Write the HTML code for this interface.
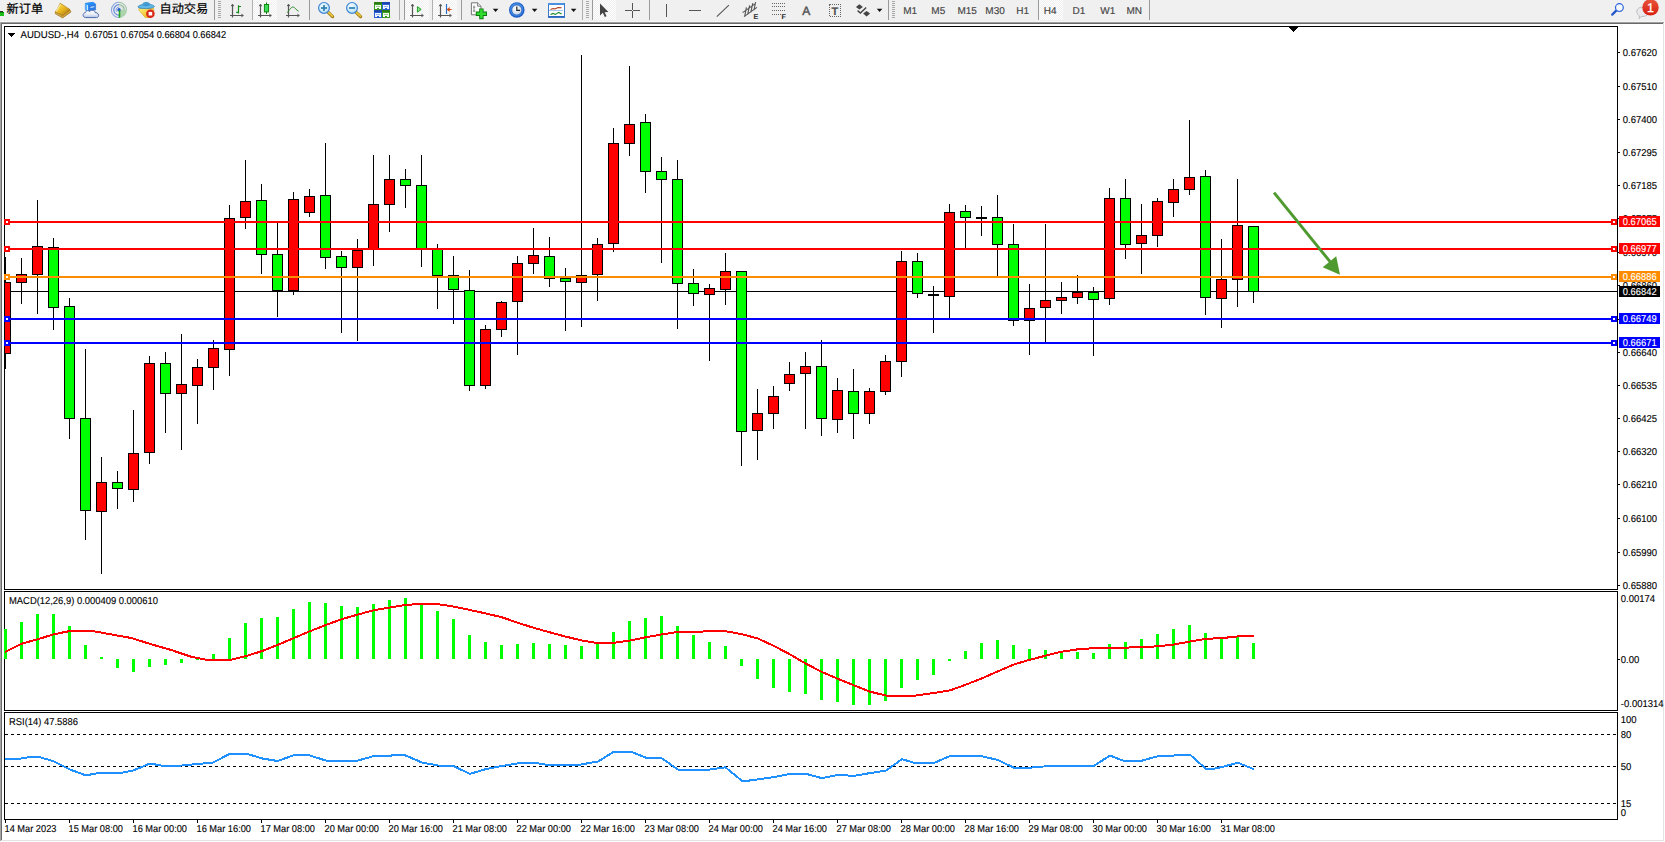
<!DOCTYPE html>
<html lang="zh"><head><meta charset="utf-8"><title>AUDUSD-,H4</title>
<style>html,body{margin:0;padding:0;background:#fff}body{width:1665px;height:842px;overflow:hidden;position:relative}svg{position:absolute;left:0;top:0;display:block}text{font-family:"Liberation Sans","Noto Sans CJK SC",sans-serif;font-size:10px;fill:#000;text-rendering:geometricPrecision}text{stroke:#000;stroke-width:.12px}text.w{stroke:#fff}text.cjk{font-size:12.2px;stroke-width:.2px}text.tf{font-size:10px;fill:#444;stroke:#444;stroke-width:.15px}text.w{fill:#fff}</style></head><body>
<svg width="1665" height="842" viewBox="0 0 1665 842">
<g shape-rendering="crispEdges">
<rect x="0" y="0" width="1665" height="842" fill="#fff"/>
<rect x="0" y="0" width="1665" height="22" fill="#f0f0f0"/>
<rect x="0" y="21" width="1665" height="1" fill="#f6f6f6"/>
<rect x="0" y="22" width="1664" height="1" fill="#a0a0a0"/>
<rect x="0" y="22" width="1" height="819" fill="#a6a6a6"/>
<rect x="1" y="23" width="1662" height="1" fill="#696969"/>
<rect x="1" y="23" width="1" height="817" fill="#696969"/>
<rect x="1663" y="23" width="1" height="818" fill="#e3e3e3"/>
<rect x="1" y="840" width="1663" height="1" fill="#e3e3e3"/>
<rect x="4.5" y="26.5" width="1613" height="563" fill="#fff" stroke="#000" stroke-width="1"/>
<rect x="4.5" y="591.5" width="1613" height="119" fill="#fff" stroke="#000" stroke-width="1"/>
<rect x="4.5" y="712.5" width="1613" height="107" fill="#fff" stroke="#000" stroke-width="1"/>
</g>
<g shape-rendering="crispEdges">
<rect x="5" y="291" width="1612" height="1" fill="#000"/>
<clipPath id="cm"><rect x="5" y="27" width="1612" height="562"/></clipPath>
<g clip-path="url(#cm)">
<rect x="5" y="257" width="1" height="112" fill="#000"/>
<rect x="0" y="282" width="11" height="72" fill="#000"/>
<rect x="1" y="283" width="9" height="70" fill="#f00"/>
<rect x="21" y="258" width="1" height="46" fill="#000"/>
<rect x="16" y="274" width="11" height="9" fill="#000"/>
<rect x="17" y="275" width="9" height="7" fill="#f00"/>
<rect x="37" y="200" width="1" height="114" fill="#000"/>
<rect x="32" y="246" width="11" height="29" fill="#000"/>
<rect x="33" y="247" width="9" height="27" fill="#f00"/>
<rect x="53" y="238" width="1" height="92" fill="#000"/>
<rect x="48" y="247" width="11" height="61" fill="#000"/>
<rect x="49" y="248" width="9" height="59" fill="#0f0"/>
<rect x="69" y="298" width="1" height="141" fill="#000"/>
<rect x="64" y="306" width="11" height="113" fill="#000"/>
<rect x="65" y="307" width="9" height="111" fill="#0f0"/>
<rect x="85" y="349" width="1" height="191" fill="#000"/>
<rect x="80" y="418" width="11" height="93" fill="#000"/>
<rect x="81" y="419" width="9" height="91" fill="#0f0"/>
<rect x="101" y="457" width="1" height="117" fill="#000"/>
<rect x="96" y="482" width="11" height="30" fill="#000"/>
<rect x="97" y="483" width="9" height="28" fill="#f00"/>
<rect x="117" y="471" width="1" height="38" fill="#000"/>
<rect x="112" y="482" width="11" height="7" fill="#000"/>
<rect x="113" y="483" width="9" height="5" fill="#0f0"/>
<rect x="133" y="410" width="1" height="92" fill="#000"/>
<rect x="128" y="453" width="11" height="37" fill="#000"/>
<rect x="129" y="454" width="9" height="35" fill="#f00"/>
<rect x="149" y="356" width="1" height="108" fill="#000"/>
<rect x="144" y="363" width="11" height="90" fill="#000"/>
<rect x="145" y="364" width="9" height="88" fill="#f00"/>
<rect x="165" y="352" width="1" height="81" fill="#000"/>
<rect x="160" y="363" width="11" height="31" fill="#000"/>
<rect x="161" y="364" width="9" height="29" fill="#0f0"/>
<rect x="181" y="334" width="1" height="116" fill="#000"/>
<rect x="176" y="384" width="11" height="10" fill="#000"/>
<rect x="177" y="385" width="9" height="8" fill="#f00"/>
<rect x="197" y="359" width="1" height="65" fill="#000"/>
<rect x="192" y="367" width="11" height="19" fill="#000"/>
<rect x="193" y="368" width="9" height="17" fill="#f00"/>
<rect x="213" y="340" width="1" height="50" fill="#000"/>
<rect x="208" y="348" width="11" height="20" fill="#000"/>
<rect x="209" y="349" width="9" height="18" fill="#f00"/>
<rect x="229" y="205" width="1" height="171" fill="#000"/>
<rect x="224" y="218" width="11" height="132" fill="#000"/>
<rect x="225" y="219" width="9" height="130" fill="#f00"/>
<rect x="245" y="160" width="1" height="69" fill="#000"/>
<rect x="240" y="201" width="11" height="17" fill="#000"/>
<rect x="241" y="202" width="9" height="15" fill="#f00"/>
<rect x="261" y="184" width="1" height="90" fill="#000"/>
<rect x="256" y="200" width="11" height="55" fill="#000"/>
<rect x="257" y="201" width="9" height="53" fill="#0f0"/>
<rect x="277" y="223" width="1" height="94" fill="#000"/>
<rect x="272" y="254" width="11" height="37" fill="#000"/>
<rect x="273" y="255" width="9" height="35" fill="#0f0"/>
<rect x="293" y="192" width="1" height="103" fill="#000"/>
<rect x="288" y="199" width="11" height="92" fill="#000"/>
<rect x="289" y="200" width="9" height="90" fill="#f00"/>
<rect x="309" y="189" width="1" height="28" fill="#000"/>
<rect x="304" y="196" width="11" height="17" fill="#000"/>
<rect x="305" y="197" width="9" height="15" fill="#f00"/>
<rect x="325" y="143" width="1" height="126" fill="#000"/>
<rect x="320" y="195" width="11" height="63" fill="#000"/>
<rect x="321" y="196" width="9" height="61" fill="#0f0"/>
<rect x="341" y="251" width="1" height="82" fill="#000"/>
<rect x="336" y="256" width="11" height="12" fill="#000"/>
<rect x="337" y="257" width="9" height="10" fill="#0f0"/>
<rect x="357" y="239" width="1" height="102" fill="#000"/>
<rect x="352" y="250" width="11" height="18" fill="#000"/>
<rect x="353" y="251" width="9" height="16" fill="#f00"/>
<rect x="373" y="155" width="1" height="111" fill="#000"/>
<rect x="368" y="204" width="11" height="46" fill="#000"/>
<rect x="369" y="205" width="9" height="44" fill="#f00"/>
<rect x="389" y="155" width="1" height="77" fill="#000"/>
<rect x="384" y="179" width="11" height="26" fill="#000"/>
<rect x="385" y="180" width="9" height="24" fill="#f00"/>
<rect x="405" y="169" width="1" height="39" fill="#000"/>
<rect x="400" y="179" width="11" height="7" fill="#000"/>
<rect x="401" y="180" width="9" height="5" fill="#0f0"/>
<rect x="421" y="155" width="1" height="112" fill="#000"/>
<rect x="416" y="185" width="11" height="64" fill="#000"/>
<rect x="417" y="186" width="9" height="62" fill="#0f0"/>
<rect x="437" y="244" width="1" height="65" fill="#000"/>
<rect x="432" y="249" width="11" height="27" fill="#000"/>
<rect x="433" y="250" width="9" height="25" fill="#0f0"/>
<rect x="453" y="256" width="1" height="68" fill="#000"/>
<rect x="448" y="275" width="11" height="15" fill="#000"/>
<rect x="449" y="276" width="9" height="13" fill="#0f0"/>
<rect x="469" y="270" width="1" height="121" fill="#000"/>
<rect x="464" y="290" width="11" height="96" fill="#000"/>
<rect x="465" y="291" width="9" height="94" fill="#0f0"/>
<rect x="485" y="325" width="1" height="64" fill="#000"/>
<rect x="480" y="329" width="11" height="57" fill="#000"/>
<rect x="481" y="330" width="9" height="55" fill="#f00"/>
<rect x="501" y="301" width="1" height="36" fill="#000"/>
<rect x="496" y="302" width="11" height="28" fill="#000"/>
<rect x="497" y="303" width="9" height="26" fill="#f00"/>
<rect x="517" y="256" width="1" height="99" fill="#000"/>
<rect x="512" y="263" width="11" height="39" fill="#000"/>
<rect x="513" y="264" width="9" height="37" fill="#f00"/>
<rect x="533" y="228" width="1" height="46" fill="#000"/>
<rect x="528" y="255" width="11" height="9" fill="#000"/>
<rect x="529" y="256" width="9" height="7" fill="#f00"/>
<rect x="549" y="237" width="1" height="50" fill="#000"/>
<rect x="544" y="256" width="11" height="23" fill="#000"/>
<rect x="545" y="257" width="9" height="21" fill="#0f0"/>
<rect x="565" y="268" width="1" height="63" fill="#000"/>
<rect x="560" y="278" width="11" height="4" fill="#000"/>
<rect x="561" y="279" width="9" height="2" fill="#0f0"/>
<rect x="581" y="55" width="1" height="272" fill="#000"/>
<rect x="576" y="275" width="11" height="8" fill="#000"/>
<rect x="577" y="276" width="9" height="6" fill="#f00"/>
<rect x="597" y="238" width="1" height="63" fill="#000"/>
<rect x="592" y="244" width="11" height="31" fill="#000"/>
<rect x="593" y="245" width="9" height="29" fill="#f00"/>
<rect x="613" y="128" width="1" height="124" fill="#000"/>
<rect x="608" y="143" width="11" height="101" fill="#000"/>
<rect x="609" y="144" width="9" height="99" fill="#f00"/>
<rect x="629" y="66" width="1" height="90" fill="#000"/>
<rect x="624" y="124" width="11" height="20" fill="#000"/>
<rect x="625" y="125" width="9" height="18" fill="#f00"/>
<rect x="645" y="114" width="1" height="79" fill="#000"/>
<rect x="640" y="122" width="11" height="50" fill="#000"/>
<rect x="641" y="123" width="9" height="48" fill="#0f0"/>
<rect x="661" y="157" width="1" height="106" fill="#000"/>
<rect x="656" y="171" width="11" height="9" fill="#000"/>
<rect x="657" y="172" width="9" height="7" fill="#0f0"/>
<rect x="677" y="160" width="1" height="169" fill="#000"/>
<rect x="672" y="179" width="11" height="105" fill="#000"/>
<rect x="673" y="180" width="9" height="103" fill="#0f0"/>
<rect x="693" y="269" width="1" height="37" fill="#000"/>
<rect x="688" y="283" width="11" height="11" fill="#000"/>
<rect x="689" y="284" width="9" height="9" fill="#0f0"/>
<rect x="709" y="284" width="1" height="77" fill="#000"/>
<rect x="704" y="288" width="11" height="7" fill="#000"/>
<rect x="705" y="289" width="9" height="5" fill="#f00"/>
<rect x="725" y="253" width="1" height="52" fill="#000"/>
<rect x="720" y="271" width="11" height="19" fill="#000"/>
<rect x="721" y="272" width="9" height="17" fill="#f00"/>
<rect x="741" y="271" width="1" height="195" fill="#000"/>
<rect x="736" y="271" width="11" height="161" fill="#000"/>
<rect x="737" y="272" width="9" height="159" fill="#0f0"/>
<rect x="757" y="389" width="1" height="71" fill="#000"/>
<rect x="752" y="413" width="11" height="18" fill="#000"/>
<rect x="753" y="414" width="9" height="16" fill="#f00"/>
<rect x="773" y="386" width="1" height="43" fill="#000"/>
<rect x="768" y="396" width="11" height="18" fill="#000"/>
<rect x="769" y="397" width="9" height="16" fill="#f00"/>
<rect x="789" y="362" width="1" height="29" fill="#000"/>
<rect x="784" y="374" width="11" height="10" fill="#000"/>
<rect x="785" y="375" width="9" height="8" fill="#f00"/>
<rect x="805" y="352" width="1" height="77" fill="#000"/>
<rect x="800" y="366" width="11" height="8" fill="#000"/>
<rect x="801" y="367" width="9" height="6" fill="#f00"/>
<rect x="821" y="340" width="1" height="96" fill="#000"/>
<rect x="816" y="366" width="11" height="53" fill="#000"/>
<rect x="817" y="367" width="9" height="51" fill="#0f0"/>
<rect x="837" y="378" width="1" height="55" fill="#000"/>
<rect x="832" y="390" width="11" height="30" fill="#000"/>
<rect x="833" y="391" width="9" height="28" fill="#f00"/>
<rect x="853" y="369" width="1" height="70" fill="#000"/>
<rect x="848" y="391" width="11" height="23" fill="#000"/>
<rect x="849" y="392" width="9" height="21" fill="#0f0"/>
<rect x="869" y="388" width="1" height="36" fill="#000"/>
<rect x="864" y="391" width="11" height="23" fill="#000"/>
<rect x="865" y="392" width="9" height="21" fill="#f00"/>
<rect x="885" y="355" width="1" height="40" fill="#000"/>
<rect x="880" y="361" width="11" height="31" fill="#000"/>
<rect x="881" y="362" width="9" height="29" fill="#f00"/>
<rect x="901" y="251" width="1" height="126" fill="#000"/>
<rect x="896" y="261" width="11" height="101" fill="#000"/>
<rect x="897" y="262" width="9" height="99" fill="#f00"/>
<rect x="917" y="253" width="1" height="45" fill="#000"/>
<rect x="912" y="261" width="11" height="33" fill="#000"/>
<rect x="913" y="262" width="9" height="31" fill="#0f0"/>
<rect x="933" y="286" width="1" height="47" fill="#000"/>
<rect x="928" y="294" width="11" height="2" fill="#000"/>
<rect x="949" y="204" width="1" height="115" fill="#000"/>
<rect x="944" y="212" width="11" height="85" fill="#000"/>
<rect x="945" y="213" width="9" height="83" fill="#f00"/>
<rect x="965" y="205" width="1" height="44" fill="#000"/>
<rect x="960" y="211" width="11" height="7" fill="#000"/>
<rect x="961" y="212" width="9" height="5" fill="#0f0"/>
<rect x="981" y="206" width="1" height="30" fill="#000"/>
<rect x="976" y="217" width="11" height="2" fill="#000"/>
<rect x="997" y="195" width="1" height="81" fill="#000"/>
<rect x="992" y="217" width="11" height="28" fill="#000"/>
<rect x="993" y="218" width="9" height="26" fill="#0f0"/>
<rect x="1013" y="224" width="1" height="102" fill="#000"/>
<rect x="1008" y="244" width="11" height="77" fill="#000"/>
<rect x="1009" y="245" width="9" height="75" fill="#0f0"/>
<rect x="1029" y="284" width="1" height="71" fill="#000"/>
<rect x="1024" y="308" width="11" height="13" fill="#000"/>
<rect x="1025" y="309" width="9" height="11" fill="#f00"/>
<rect x="1045" y="224" width="1" height="119" fill="#000"/>
<rect x="1040" y="300" width="11" height="8" fill="#000"/>
<rect x="1041" y="301" width="9" height="6" fill="#f00"/>
<rect x="1061" y="282" width="1" height="32" fill="#000"/>
<rect x="1056" y="297" width="11" height="4" fill="#000"/>
<rect x="1057" y="298" width="9" height="2" fill="#f00"/>
<rect x="1077" y="275" width="1" height="29" fill="#000"/>
<rect x="1072" y="292" width="11" height="6" fill="#000"/>
<rect x="1073" y="293" width="9" height="4" fill="#f00"/>
<rect x="1093" y="287" width="1" height="69" fill="#000"/>
<rect x="1088" y="292" width="11" height="8" fill="#000"/>
<rect x="1089" y="293" width="9" height="6" fill="#0f0"/>
<rect x="1109" y="188" width="1" height="117" fill="#000"/>
<rect x="1104" y="198" width="11" height="101" fill="#000"/>
<rect x="1105" y="199" width="9" height="99" fill="#f00"/>
<rect x="1125" y="179" width="1" height="80" fill="#000"/>
<rect x="1120" y="198" width="11" height="47" fill="#000"/>
<rect x="1121" y="199" width="9" height="45" fill="#0f0"/>
<rect x="1141" y="204" width="1" height="70" fill="#000"/>
<rect x="1136" y="235" width="11" height="9" fill="#000"/>
<rect x="1137" y="236" width="9" height="7" fill="#f00"/>
<rect x="1157" y="198" width="1" height="49" fill="#000"/>
<rect x="1152" y="201" width="11" height="35" fill="#000"/>
<rect x="1153" y="202" width="9" height="33" fill="#f00"/>
<rect x="1173" y="179" width="1" height="38" fill="#000"/>
<rect x="1168" y="189" width="11" height="14" fill="#000"/>
<rect x="1169" y="190" width="9" height="12" fill="#f00"/>
<rect x="1189" y="120" width="1" height="75" fill="#000"/>
<rect x="1184" y="177" width="11" height="13" fill="#000"/>
<rect x="1185" y="178" width="9" height="11" fill="#f00"/>
<rect x="1205" y="170" width="1" height="145" fill="#000"/>
<rect x="1200" y="176" width="11" height="122" fill="#000"/>
<rect x="1201" y="177" width="9" height="120" fill="#0f0"/>
<rect x="1221" y="239" width="1" height="89" fill="#000"/>
<rect x="1216" y="279" width="11" height="20" fill="#000"/>
<rect x="1217" y="280" width="9" height="18" fill="#f00"/>
<rect x="1237" y="179" width="1" height="128" fill="#000"/>
<rect x="1232" y="225" width="11" height="55" fill="#000"/>
<rect x="1233" y="226" width="9" height="53" fill="#f00"/>
<rect x="1253" y="226" width="1" height="77" fill="#000"/>
<rect x="1248" y="226" width="11" height="66" fill="#000"/>
<rect x="1249" y="227" width="9" height="64" fill="#0f0"/>
</g>
<rect x="5" y="221" width="1612" height="2" fill="#f00"/>
<rect x="4" y="219" width="6" height="6" fill="#f00"/>
<rect x="6" y="221" width="2" height="2" fill="#fff"/>
<rect x="1611" y="219" width="6" height="6" fill="#f00"/>
<rect x="1613" y="221" width="2" height="2" fill="#fff"/>
<rect x="5" y="248" width="1612" height="2" fill="#f00"/>
<rect x="4" y="246" width="6" height="6" fill="#f00"/>
<rect x="6" y="248" width="2" height="2" fill="#fff"/>
<rect x="1611" y="246" width="6" height="6" fill="#f00"/>
<rect x="1613" y="248" width="2" height="2" fill="#fff"/>
<rect x="5" y="276" width="1612" height="2" fill="#ff8c00"/>
<rect x="4" y="274" width="6" height="6" fill="#ff8c00"/>
<rect x="6" y="276" width="2" height="2" fill="#fff"/>
<rect x="1611" y="274" width="6" height="6" fill="#ff8c00"/>
<rect x="1613" y="276" width="2" height="2" fill="#fff"/>
<rect x="5" y="318" width="1612" height="2" fill="#00f"/>
<rect x="4" y="316" width="6" height="6" fill="#00f"/>
<rect x="6" y="318" width="2" height="2" fill="#fff"/>
<rect x="1611" y="316" width="6" height="6" fill="#00f"/>
<rect x="1613" y="318" width="2" height="2" fill="#fff"/>
<rect x="5" y="342" width="1612" height="2" fill="#00f"/>
<rect x="4" y="340" width="6" height="6" fill="#00f"/>
<rect x="6" y="342" width="2" height="2" fill="#fff"/>
<rect x="1611" y="340" width="6" height="6" fill="#00f"/>
<rect x="1613" y="342" width="2" height="2" fill="#fff"/>
<rect x="1289" y="27" width="9" height="1" fill="#000"/>
<rect x="1290" y="28" width="7" height="1" fill="#000"/>
<rect x="1291" y="29" width="5" height="1" fill="#000"/>
<rect x="1292" y="30" width="3" height="1" fill="#000"/>
<rect x="1293" y="31" width="1" height="1" fill="#000"/>
<rect x="8" y="33" width="7" height="1" fill="#000"/>
<rect x="9" y="34" width="5" height="1" fill="#000"/>
<rect x="10" y="35" width="3" height="1" fill="#000"/>
<rect x="11" y="36" width="1" height="1" fill="#000"/>
</g>
<g shape-rendering="crispEdges">
<rect x="1618" y="52" width="2" height="1" fill="#000"/>
<rect x="1618" y="86" width="2" height="1" fill="#000"/>
<rect x="1618" y="119" width="2" height="1" fill="#000"/>
<rect x="1618" y="152" width="2" height="1" fill="#000"/>
<rect x="1618" y="185" width="2" height="1" fill="#000"/>
<rect x="1618" y="218" width="2" height="1" fill="#000"/>
<rect x="1618" y="252" width="2" height="1" fill="#000"/>
<rect x="1618" y="285" width="2" height="1" fill="#000"/>
<rect x="1618" y="319" width="2" height="1" fill="#000"/>
<rect x="1618" y="352" width="2" height="1" fill="#000"/>
<rect x="1618" y="385" width="2" height="1" fill="#000"/>
<rect x="1618" y="418" width="2" height="1" fill="#000"/>
<rect x="1618" y="451" width="2" height="1" fill="#000"/>
<rect x="1618" y="484" width="2" height="1" fill="#000"/>
<rect x="1618" y="518" width="2" height="1" fill="#000"/>
<rect x="1618" y="552" width="2" height="1" fill="#000"/>
<rect x="1618" y="585" width="2" height="1" fill="#000"/>
</g>
<text transform="translate(1622.8 56) scale(.95 1)">0.67620</text>
<text transform="translate(1622.8 90) scale(.95 1)">0.67510</text>
<text transform="translate(1622.8 123) scale(.95 1)">0.67400</text>
<text transform="translate(1622.8 156) scale(.95 1)">0.67295</text>
<text transform="translate(1622.8 189) scale(.95 1)">0.67185</text>
<text transform="translate(1622.8 222) scale(.95 1)">0.67075</text>
<text transform="translate(1622.8 256) scale(.95 1)">0.66970</text>
<text transform="translate(1622.8 289) scale(.95 1)">0.66860</text>
<text transform="translate(1622.8 323) scale(.95 1)">0.66750</text>
<text transform="translate(1622.8 356) scale(.95 1)">0.66640</text>
<text transform="translate(1622.8 389) scale(.95 1)">0.66535</text>
<text transform="translate(1622.8 422) scale(.95 1)">0.66425</text>
<text transform="translate(1622.8 455) scale(.95 1)">0.66320</text>
<text transform="translate(1622.8 488) scale(.95 1)">0.66210</text>
<text transform="translate(1622.8 522) scale(.95 1)">0.66100</text>
<text transform="translate(1622.8 556) scale(.95 1)">0.65990</text>
<text transform="translate(1622.8 589) scale(.95 1)">0.65880</text>
<g shape-rendering="crispEdges">
<rect x="1619" y="216" width="41" height="11" fill="#f00"/>
<rect x="1619" y="243" width="41" height="11" fill="#f00"/>
<rect x="1619" y="271" width="41" height="11" fill="#ff8c00"/>
<rect x="1619" y="313" width="41" height="11" fill="#00f"/>
<rect x="1619" y="337" width="41" height="11" fill="#00f"/>
<rect x="1619" y="286" width="41" height="11" fill="#000"/>
</g>
<text class="w" transform="translate(1622.8 225) scale(.935 1)">0.67065</text>
<text class="w" transform="translate(1622.8 252) scale(.935 1)">0.66977</text>
<text class="w" transform="translate(1622.8 280) scale(.935 1)">0.66886</text>
<text class="w" transform="translate(1622.8 322) scale(.935 1)">0.66749</text>
<text class="w" transform="translate(1622.8 346) scale(.935 1)">0.66671</text>
<text class="w" transform="translate(1622.8 295) scale(.935 1)">0.66842</text>
<text x="20.6" y="38" textLength="58.4" lengthAdjust="spacingAndGlyphs">AUDUSD-,H4</text><text x="84.7" y="38" textLength="141.4" lengthAdjust="spacingAndGlyphs">0.67051 0.67054 0.66804 0.66842</text>
<g fill="#4e9a2e" stroke="none"><polygon points="1272.9,193.6 1275.2,191.8 1331.2,260.8 1328.9,262.6"/><polygon points="1340,274.7 1322.7,267.3 1336.2,256.2"/></g>
<g shape-rendering="crispEdges">
<rect x="4" y="629" width="3" height="30" fill="#0f0"/>
<rect x="20" y="622" width="3" height="37" fill="#0f0"/>
<rect x="36" y="614" width="3" height="45" fill="#0f0"/>
<rect x="52" y="614" width="3" height="45" fill="#0f0"/>
<rect x="68" y="626" width="3" height="33" fill="#0f0"/>
<rect x="84" y="645" width="3" height="14" fill="#0f0"/>
<rect x="100" y="657" width="3" height="2" fill="#0f0"/>
<rect x="116" y="659" width="3" height="9" fill="#0f0"/>
<rect x="132" y="659" width="3" height="13" fill="#0f0"/>
<rect x="148" y="659" width="3" height="8" fill="#0f0"/>
<rect x="164" y="659" width="3" height="6" fill="#0f0"/>
<rect x="180" y="659" width="3" height="4" fill="#0f0"/>
<rect x="196" y="659" width="3" height="1" fill="#0f0"/>
<rect x="212" y="654" width="3" height="5" fill="#0f0"/>
<rect x="228" y="638" width="3" height="21" fill="#0f0"/>
<rect x="244" y="623" width="3" height="36" fill="#0f0"/>
<rect x="260" y="618" width="3" height="41" fill="#0f0"/>
<rect x="276" y="617" width="3" height="42" fill="#0f0"/>
<rect x="292" y="609" width="3" height="50" fill="#0f0"/>
<rect x="308" y="602" width="3" height="57" fill="#0f0"/>
<rect x="324" y="603" width="3" height="56" fill="#0f0"/>
<rect x="340" y="606" width="3" height="53" fill="#0f0"/>
<rect x="356" y="607" width="3" height="52" fill="#0f0"/>
<rect x="372" y="604" width="3" height="55" fill="#0f0"/>
<rect x="388" y="600" width="3" height="59" fill="#0f0"/>
<rect x="404" y="598" width="3" height="61" fill="#0f0"/>
<rect x="420" y="603" width="3" height="56" fill="#0f0"/>
<rect x="436" y="611" width="3" height="48" fill="#0f0"/>
<rect x="452" y="619" width="3" height="40" fill="#0f0"/>
<rect x="468" y="635" width="3" height="24" fill="#0f0"/>
<rect x="484" y="642" width="3" height="17" fill="#0f0"/>
<rect x="500" y="645" width="3" height="14" fill="#0f0"/>
<rect x="516" y="644" width="3" height="15" fill="#0f0"/>
<rect x="532" y="643" width="3" height="16" fill="#0f0"/>
<rect x="548" y="644" width="3" height="15" fill="#0f0"/>
<rect x="564" y="645" width="3" height="14" fill="#0f0"/>
<rect x="580" y="646" width="3" height="13" fill="#0f0"/>
<rect x="596" y="644" width="3" height="15" fill="#0f0"/>
<rect x="612" y="632" width="3" height="27" fill="#0f0"/>
<rect x="628" y="621" width="3" height="38" fill="#0f0"/>
<rect x="644" y="618" width="3" height="41" fill="#0f0"/>
<rect x="660" y="616" width="3" height="43" fill="#0f0"/>
<rect x="676" y="626" width="3" height="33" fill="#0f0"/>
<rect x="692" y="635" width="3" height="24" fill="#0f0"/>
<rect x="708" y="642" width="3" height="17" fill="#0f0"/>
<rect x="724" y="646" width="3" height="13" fill="#0f0"/>
<rect x="740" y="659" width="3" height="7" fill="#0f0"/>
<rect x="756" y="659" width="3" height="20" fill="#0f0"/>
<rect x="772" y="659" width="3" height="29" fill="#0f0"/>
<rect x="788" y="659" width="3" height="33" fill="#0f0"/>
<rect x="804" y="659" width="3" height="35" fill="#0f0"/>
<rect x="820" y="659" width="3" height="41" fill="#0f0"/>
<rect x="836" y="659" width="3" height="43" fill="#0f0"/>
<rect x="852" y="659" width="3" height="46" fill="#0f0"/>
<rect x="868" y="659" width="3" height="46" fill="#0f0"/>
<rect x="884" y="659" width="3" height="42" fill="#0f0"/>
<rect x="900" y="659" width="3" height="29" fill="#0f0"/>
<rect x="916" y="659" width="3" height="21" fill="#0f0"/>
<rect x="932" y="659" width="3" height="16" fill="#0f0"/>
<rect x="948" y="659" width="3" height="2" fill="#0f0"/>
<rect x="964" y="651" width="3" height="8" fill="#0f0"/>
<rect x="980" y="643" width="3" height="16" fill="#0f0"/>
<rect x="996" y="640" width="3" height="19" fill="#0f0"/>
<rect x="1012" y="645" width="3" height="14" fill="#0f0"/>
<rect x="1028" y="649" width="3" height="10" fill="#0f0"/>
<rect x="1044" y="650" width="3" height="9" fill="#0f0"/>
<rect x="1060" y="652" width="3" height="7" fill="#0f0"/>
<rect x="1076" y="652" width="3" height="7" fill="#0f0"/>
<rect x="1092" y="653" width="3" height="6" fill="#0f0"/>
<rect x="1108" y="644" width="3" height="15" fill="#0f0"/>
<rect x="1124" y="642" width="3" height="17" fill="#0f0"/>
<rect x="1140" y="639" width="3" height="20" fill="#0f0"/>
<rect x="1156" y="634" width="3" height="25" fill="#0f0"/>
<rect x="1172" y="629" width="3" height="30" fill="#0f0"/>
<rect x="1188" y="625" width="3" height="34" fill="#0f0"/>
<rect x="1204" y="633" width="3" height="26" fill="#0f0"/>
<rect x="1220" y="638" width="3" height="21" fill="#0f0"/>
<rect x="1236" y="637" width="3" height="22" fill="#0f0"/>
<rect x="1252" y="643" width="3" height="16" fill="#0f0"/>
<polyline points="5.0,651.9 21.4,643.8 37.8,639.2 54.2,634.2 70.6,630.9 92.0,630.9 111.0,634.4 131.2,638.0 151.4,644.3 171.5,650.1 191.7,656.9 209.4,660.4 228.3,660.4 246.0,656.1 261.9,651.1 277.5,645.0 293.9,638.0 310.0,631.2 326.0,624.9 342.0,619.1 358.0,614.5 373.9,610.2 390.0,607.5 406.0,604.9 422.0,603.9 436.6,603.9 454.0,606.7 470.0,610.0 486.0,613.5 502.0,617.3 518.0,622.8 534.0,627.9 550.0,632.4 566.0,636.7 582.0,640.5 595.5,642.8 614.0,642.8 630.0,640.5 646.0,637.2 662.0,634.4 678.0,631.9 694.0,631.9 710.0,631.2 724.0,630.9 742.0,634.2 758.0,638.5 774.0,646.0 790.0,654.4 806.0,663.7 822.0,672.0 838.0,678.8 854.0,685.4 870.0,691.7 886.0,695.5 916.0,695.5 934.0,693.0 950.0,690.4 966.0,684.6 982.0,678.3 998.0,671.3 1014.0,664.5 1030.0,659.7 1046.0,655.6 1062.0,651.6 1078.0,649.3 1094.0,648.1 1110.0,647.6 1126.0,647.6 1142.0,647.1 1158.0,646.3 1174.0,644.5 1190.0,641.5 1206.0,638.8 1222.0,638.1 1238.0,636.4 1254.0,635.8" fill="none" stroke="#f00" stroke-width="2" stroke-linejoin="round"/>
<rect x="1618" y="659" width="2" height="1" fill="#000"/>
</g>
<text transform="translate(9 604) scale(.94 1)">MACD(12,26,9) 0.000409 0.000610</text>
<text transform="translate(1620.8 602) scale(.95 1)">0.00174</text><text transform="translate(1620.8 663) scale(.95 1)">0.00</text><text transform="translate(1620.8 707) scale(.95 1)">-0.001314</text>
<g shape-rendering="crispEdges">
<line x1="5" y1="734.5" x2="1617" y2="734.5" stroke="#000" stroke-width="1" stroke-dasharray="3,3"/>
<line x1="5" y1="766.5" x2="1617" y2="766.5" stroke="#000" stroke-width="1" stroke-dasharray="3,3"/>
<line x1="5" y1="803.5" x2="1617" y2="803.5" stroke="#000" stroke-width="1" stroke-dasharray="3,3"/>
<polyline points="5.0,759.0 21.4,758.5 30.3,757.0 39.0,757.0 53.0,761.0 69.4,769.3 84.5,774.9 88.3,774.9 99.6,772.9 121.0,772.9 133.7,770.3 148.8,764.0 152.6,764.0 164.0,766.0 181.6,765.5 198.0,764.0 213.2,762.5 229.6,753.9 247.2,753.9 262.4,758.5 277.5,761.0 293.9,755.2 309.0,755.2 326.7,760.8 357.0,760.8 373.4,756.2 389.8,756.0 393.5,755.0 404.9,755.2 422.0,762.5 437.8,765.5 453.0,765.8 469.9,773.9 486.0,769.1 502.0,766.0 517.8,763.3 537.5,763.3 547.6,765.0 579.0,764.8 598.0,761.5 614.0,751.7 630.8,751.7 646.0,757.7 661.0,757.7 678.0,769.6 709.0,769.6 725.4,767.3 741.8,780.7 748.0,780.7 758.0,779.4 773.9,777.1 790.0,773.9 806.3,773.9 822.0,778.2 837.8,774.9 854.0,775.9 869.9,773.1 886.0,770.6 902.0,759.2 914.8,763.0 934.0,763.0 949.9,756.0 980.4,756.0 998.0,760.0 1014.0,767.8 1028.3,767.8 1046.0,766.3 1094.0,765.8 1110.0,755.5 1124.0,761.0 1140.6,761.0 1158.0,756.2 1174.0,755.5 1190.0,754.7 1206.0,768.9 1212.6,769.0 1221.8,767.0 1238.0,762.8 1254.0,769.2" fill="none" stroke="#1e90ff" stroke-width="2" stroke-linejoin="round"/>
</g>
<text transform="translate(9 725) scale(.94 1)">RSI(14) 47.5886</text>
<text transform="translate(1620.8 723) scale(.95 1)">100</text>
<text transform="translate(1620.8 738) scale(.95 1)">80</text>
<text transform="translate(1620.8 770) scale(.95 1)">50</text>
<text transform="translate(1620.8 807) scale(.95 1)">15</text>
<text transform="translate(1620.8 816) scale(.95 1)">0</text>
<g shape-rendering="crispEdges">
<rect x="5" y="820" width="1" height="3" fill="#000"/>
<rect x="69" y="820" width="1" height="3" fill="#000"/>
<rect x="133" y="820" width="1" height="3" fill="#000"/>
<rect x="197" y="820" width="1" height="3" fill="#000"/>
<rect x="261" y="820" width="1" height="3" fill="#000"/>
<rect x="325" y="820" width="1" height="3" fill="#000"/>
<rect x="389" y="820" width="1" height="3" fill="#000"/>
<rect x="453" y="820" width="1" height="3" fill="#000"/>
<rect x="517" y="820" width="1" height="3" fill="#000"/>
<rect x="581" y="820" width="1" height="3" fill="#000"/>
<rect x="645" y="820" width="1" height="3" fill="#000"/>
<rect x="709" y="820" width="1" height="3" fill="#000"/>
<rect x="773" y="820" width="1" height="3" fill="#000"/>
<rect x="837" y="820" width="1" height="3" fill="#000"/>
<rect x="901" y="820" width="1" height="3" fill="#000"/>
<rect x="965" y="820" width="1" height="3" fill="#000"/>
<rect x="1029" y="820" width="1" height="3" fill="#000"/>
<rect x="1093" y="820" width="1" height="3" fill="#000"/>
<rect x="1157" y="820" width="1" height="3" fill="#000"/>
<rect x="1221" y="820" width="1" height="3" fill="#000"/>
</g>
<text transform="translate(4.5 832) scale(.925 1)">14 Mar 2023</text>
<text transform="translate(68.5 832) scale(.925 1)">15 Mar 08:00</text>
<text transform="translate(132.5 832) scale(.925 1)">16 Mar 00:00</text>
<text transform="translate(196.5 832) scale(.925 1)">16 Mar 16:00</text>
<text transform="translate(260.5 832) scale(.925 1)">17 Mar 08:00</text>
<text transform="translate(324.5 832) scale(.925 1)">20 Mar 00:00</text>
<text transform="translate(388.5 832) scale(.925 1)">20 Mar 16:00</text>
<text transform="translate(452.5 832) scale(.925 1)">21 Mar 08:00</text>
<text transform="translate(516.5 832) scale(.925 1)">22 Mar 00:00</text>
<text transform="translate(580.5 832) scale(.925 1)">22 Mar 16:00</text>
<text transform="translate(644.5 832) scale(.925 1)">23 Mar 08:00</text>
<text transform="translate(708.5 832) scale(.925 1)">24 Mar 00:00</text>
<text transform="translate(772.5 832) scale(.925 1)">24 Mar 16:00</text>
<text transform="translate(836.5 832) scale(.925 1)">27 Mar 08:00</text>
<text transform="translate(900.5 832) scale(.925 1)">28 Mar 00:00</text>
<text transform="translate(964.5 832) scale(.925 1)">28 Mar 16:00</text>
<text transform="translate(1028.5 832) scale(.925 1)">29 Mar 08:00</text>
<text transform="translate(1092.5 832) scale(.925 1)">30 Mar 00:00</text>
<text transform="translate(1156.5 832) scale(.925 1)">30 Mar 16:00</text>
<text transform="translate(1220.5 832) scale(.925 1)">31 Mar 08:00</text>
<defs><linearGradient id="gold" x1="0" y1="0" x2="1" y2="1"><stop offset="0" stop-color="#fbe36a"/><stop offset=".5" stop-color="#e9b91e"/><stop offset="1" stop-color="#a86f10"/></linearGradient><linearGradient id="blu" x1="0" y1="0" x2="1" y2="1"><stop offset="0" stop-color="#6cc0ff"/><stop offset="1" stop-color="#1a6fe0"/></linearGradient><linearGradient id="cloud" x1="0" y1="0" x2="0" y2="1"><stop offset="0" stop-color="#ffffff"/><stop offset=".55" stop-color="#e8eef8"/><stop offset="1" stop-color="#aebfe0"/></linearGradient><radialGradient id="lens" cx=".4" cy=".35" r=".7"><stop offset="0" stop-color="#f2fbff"/><stop offset="1" stop-color="#b4e0f6"/></radialGradient><radialGradient id="clk" cx=".4" cy=".35" r=".7"><stop offset="0" stop-color="#ffffff"/><stop offset="1" stop-color="#c4d4e8"/></radialGradient><linearGradient id="badge" x1="0" y1="0" x2="0" y2="1"><stop offset="0" stop-color="#e8553a"/><stop offset="1" stop-color="#d81e10"/></linearGradient><linearGradient id="yel" x1="0" y1="0" x2="1" y2="1"><stop offset="0" stop-color="#fff27a"/><stop offset="1" stop-color="#e8a80e"/></linearGradient><pattern id="chk" width="2" height="2" patternUnits="userSpaceOnUse"><rect width="2" height="2" fill="#f0f0f0"/><rect width="1" height="1" fill="#fff"/><rect x="1" y="1" width="1" height="1" fill="#fff"/></pattern></defs>
<g shape-rendering="crispEdges">
<rect x="253" y="0" width="24" height="20" fill="url(#chk)"/>
<rect x="405" y="0" width="24" height="20" fill="url(#chk)"/>
<rect x="433" y="0" width="24" height="20" fill="url(#chk)"/>
<rect x="593" y="0" width="23" height="20" fill="url(#chk)"/>
<rect x="1039" y="0" width="24" height="20" fill="url(#chk)"/>
<rect x="214" y="0" width="1" height="20" fill="#9a9a9a"/>
<rect x="309" y="0" width="1" height="20" fill="#9a9a9a"/>
<rect x="404" y="0" width="1" height="20" fill="#9a9a9a"/>
<rect x="461" y="0" width="1" height="20" fill="#9a9a9a"/>
<rect x="592" y="0" width="1" height="20" fill="#9a9a9a"/>
<rect x="649" y="0" width="1" height="20" fill="#9a9a9a"/>
<rect x="888" y="0" width="1" height="20" fill="#9a9a9a"/>
<rect x="1038" y="0" width="1" height="20" fill="#9a9a9a"/>
<rect x="1149" y="0" width="1" height="20" fill="#9a9a9a"/>
<rect x="252" y="0" width="1" height="20" fill="#b0b0b0"/>
<rect x="399" y="0" width="1" height="20" fill="#b0b0b0"/>
<rect x="432" y="0" width="1" height="20" fill="#b0b0b0"/>
<rect x="582" y="0" width="1" height="20" fill="#b0b0b0"/>
<rect x="218" y="1" width="3" height="1" fill="#a8a8a8"/>
<rect x="218" y="3" width="3" height="1" fill="#a8a8a8"/>
<rect x="218" y="5" width="3" height="1" fill="#a8a8a8"/>
<rect x="218" y="7" width="3" height="1" fill="#a8a8a8"/>
<rect x="218" y="9" width="3" height="1" fill="#a8a8a8"/>
<rect x="218" y="11" width="3" height="1" fill="#a8a8a8"/>
<rect x="218" y="13" width="3" height="1" fill="#a8a8a8"/>
<rect x="218" y="15" width="3" height="1" fill="#a8a8a8"/>
<rect x="218" y="17" width="3" height="1" fill="#a8a8a8"/>
<rect x="586" y="1" width="3" height="1" fill="#a8a8a8"/>
<rect x="586" y="3" width="3" height="1" fill="#a8a8a8"/>
<rect x="586" y="5" width="3" height="1" fill="#a8a8a8"/>
<rect x="586" y="7" width="3" height="1" fill="#a8a8a8"/>
<rect x="586" y="9" width="3" height="1" fill="#a8a8a8"/>
<rect x="586" y="11" width="3" height="1" fill="#a8a8a8"/>
<rect x="586" y="13" width="3" height="1" fill="#a8a8a8"/>
<rect x="586" y="15" width="3" height="1" fill="#a8a8a8"/>
<rect x="586" y="17" width="3" height="1" fill="#a8a8a8"/>
<rect x="892" y="1" width="3" height="1" fill="#a8a8a8"/>
<rect x="892" y="3" width="3" height="1" fill="#a8a8a8"/>
<rect x="892" y="5" width="3" height="1" fill="#a8a8a8"/>
<rect x="892" y="7" width="3" height="1" fill="#a8a8a8"/>
<rect x="892" y="9" width="3" height="1" fill="#a8a8a8"/>
<rect x="892" y="11" width="3" height="1" fill="#a8a8a8"/>
<rect x="892" y="13" width="3" height="1" fill="#a8a8a8"/>
<rect x="892" y="15" width="3" height="1" fill="#a8a8a8"/>
<rect x="892" y="17" width="3" height="1" fill="#a8a8a8"/>
</g>
<g shape-rendering="crispEdges"><rect x="0" y="11" width="3" height="1" fill="#333"/><rect x="0" y="12" width="4" height="4" fill="#18c018"/><rect x="0" y="12" width="4" height="1" fill="#0a8a0a"/></g>
<text class="cjk" x="6.6" y="13.2">新订单</text>
<g stroke-linejoin="round"><polygon points="55.2,12.4 62.7,15.6 69.8,9.6 71,12 62.6,17.9 55.1,13.6" fill="#b8841a" stroke="#9a6a10" stroke-width=".6"/><path d="M55.6,13.2 L62.7,16.7 L70.6,11" fill="none" stroke="#f0d070" stroke-width=".6"/><polygon points="60.2,3.2 69.8,9.4 62.8,15.2 55.3,11.9 57.6,8.6" fill="url(#gold)" stroke="#b07c12" stroke-width=".7"/><path d="M60.4,4.2 L57.4,9.6 L56.4,11.6" stroke="#fff6b8" stroke-width="1.1" fill="none" opacity=".85"/></g>
<g stroke-linejoin="round"><polygon points="85.3,3.3 93,2.3 95.6,4 95.6,10 88,11 85.3,9.9" fill="#2a7de8" stroke="#1b62c8" stroke-width=".5"/><polygon points="85.3,3.3 93,2.3 95.6,4 88,5" fill="#1f92ff"/><polygon points="85.3,3.3 88,5 88,11 85.3,9.9" fill="#56b4ff"/><path d="M87.6,5 V10.8" stroke="#e8f6ff" stroke-width=".9"/><path d="M90.4,7.4 L94.2,6.7" stroke="#e8eef8" stroke-width="1"/><path d="M85.8,17.6 C82.4,17.6 82.2,13.2 85.2,12.8 C85.6,10.4 88.6,10 89.6,11.6 C91,9.4 95,10 95.2,12.6 C99,12.2 100,17.6 96.4,17.6 Z" fill="url(#cloud)" stroke="#4f6cb0" stroke-width="1"/></g>
<g fill="none"><path d="M119,9.9 L119,17.9 A8,8 0 0 0 127,9.9 Z" fill="#7fc07f" opacity=".6" stroke="none"/><path d="M119,9.9 L127,9.9 A8,8 0 0 0 119,1.9 Z" fill="#b4d4b8" opacity=".3" stroke="none"/><path d="M119,2.3 A7.6,7.6 0 0 0 119,17.5" stroke="#6f94d8" stroke-width="1.1" opacity=".8"/><path d="M119,2.3 A7.6,7.6 0 0 1 126.6,9.9" stroke="#8fb89a" stroke-width="1" opacity=".8"/><path d="M119,4.7 A5.2,5.2 0 0 0 119,15.1" stroke="#4f7cd4" stroke-width="1.2" opacity=".9"/><path d="M119,4.7 A5.2,5.2 0 0 1 124.2,9.9" stroke="#86b090" stroke-width="1.1" opacity=".9"/><path d="M119,7 A2.9,2.9 0 0 0 117,12" stroke="#4f7cd4" stroke-width="1" opacity=".7"/><circle cx="119" cy="9.7" r="1.7" fill="#2458d0" stroke="none"/><path d="M119.5,10 L119.5,17.8" stroke="#1fa62a" stroke-width="1.6"/></g>
<g stroke-linejoin="round"><path d="M138.9,8.4 L153.7,8.4 L153.7,11.6 L149.2,17.5 L145.2,17.5 L138.9,10 Z" fill="url(#yel)" stroke="#d8a010" stroke-width=".6"/><path d="M137.9,7 C138.4,5.4 141,5 142.4,4.6 C142.8,1.8 149.4,1.6 149.9,4.4 C151.6,4.6 154,5.2 154.4,6.6 C153.4,9 139.4,9.4 137.9,7 Z" fill="#62b8e8" stroke="#2a7cb4" stroke-width=".7"/><path d="M143,4.6 C143.4,2.4 149,2.2 149.4,4.4 C148,5.6 144.6,5.6 143,4.6 Z" fill="#3f9cd6"/><path d="M142.6,5 C144.6,6 148,5.8 149.8,4.8" fill="none" stroke="#2a7cb4" stroke-width=".6"/><circle cx="150.4" cy="13.7" r="4.3" fill="#d8261a"/><rect x="148.6" y="11.9" width="3.6" height="3.6" fill="#fff"/></g>
<text class="cjk" x="159.5" y="13.2">自动交易</text>
<g stroke="#555" stroke-width="1.2" fill="none"><path d="M232.5,4.5 V17.5 M230,15.5 H243"/><path d="M231.2,6.2 L232.5,4.2 L233.8,6.2 M241.4,14.2 L243.4,15.5 L241.4,16.8" stroke-width="1"/></g>
<path d="M236.2,12.4 H238.5 M238.5,13.6 V5.2 M238.5,6.5 H241" fill="none" stroke="#168a16" stroke-width="1.2"/>
<g stroke="#555" stroke-width="1.2" fill="none"><path d="M260.5,4.5 V17.5 M258,15.5 H271"/><path d="M259.2,6.2 L260.5,4.2 L261.8,6.2 M269.4,14.2 L271.4,15.5 L269.4,16.8" stroke-width="1"/></g>
<g><path d="M266.5,2.5 V14" stroke="#1a6a1a" stroke-width="1"/><rect x="264.4" y="4.5" width="4.2" height="7.4" fill="#3edc5a" stroke="#0c8a0c" stroke-width="1"/></g>
<g stroke="#555" stroke-width="1.2" fill="none"><path d="M288.5,4.5 V17.5 M286,15.5 H299"/><path d="M287.2,6.2 L288.5,4.2 L289.8,6.2 M297.4,14.2 L299.4,15.5 L297.4,16.8" stroke-width="1"/></g>
<path d="M287.2,12.6 C289.6,9.6 291.6,6.6 293.2,7 C295,7.6 296.6,10.4 298.6,11.2" fill="none" stroke="#2a8a2a" stroke-width="1"/>
<g><path d="M328.2,12.4 L332.6,16.6" stroke="#9a7410" stroke-width="3.2" stroke-linecap="round"/><path d="M328.4,12.4 L332.4,16.2" stroke="#ecc83a" stroke-width="1.8" stroke-linecap="round"/><circle cx="324" cy="7.9" r="5.4" fill="url(#lens)" stroke="#3f86d6" stroke-width="1.2"/><path d="M321,8 H327" stroke="#2f7fae" stroke-width="1.7"/><path d="M324,5 V11" stroke="#2f7fae" stroke-width="1.7"/></g>
<g><path d="M356.2,12.4 L360.6,16.6" stroke="#9a7410" stroke-width="3.2" stroke-linecap="round"/><path d="M356.4,12.4 L360.4,16.2" stroke="#ecc83a" stroke-width="1.8" stroke-linecap="round"/><circle cx="352" cy="7.9" r="5.4" fill="url(#lens)" stroke="#3f86d6" stroke-width="1.2"/><path d="M349,8 H355" stroke="#2f7fae" stroke-width="1.7"/></g>
<g shape-rendering="crispEdges"><rect x="374" y="2" width="8" height="8" fill="#3a9a22"/><rect x="382" y="2" width="8" height="8" fill="#2a5fd0"/><rect x="374" y="10" width="8" height="8" fill="#2a5fd0"/><rect x="382" y="10" width="8" height="8" fill="#3a9a22"/><rect x="374" y="2" width="8" height="2" fill="#2c7c14"/><rect x="382" y="2" width="8" height="2" fill="#1c44b0"/><rect x="374" y="10" width="8" height="2" fill="#1c44b0"/><rect x="382" y="10" width="8" height="2" fill="#2c7c14"/><rect x="375" y="5" width="6" height="4" fill="#f4faf0"/><rect x="383" y="5" width="6" height="4" fill="#f0f4fe"/><rect x="375" y="13" width="6" height="4" fill="#f0f4fe"/><rect x="383" y="13" width="6" height="4" fill="#f4faf0"/><rect x="376" y="6" width="4" height="1" fill="#9ccc8c"/><rect x="384" y="6" width="4" height="1" fill="#9cb4ec"/><rect x="376" y="14" width="4" height="1" fill="#9cb4ec"/><rect x="384" y="14" width="4" height="1" fill="#9ccc8c"/><rect x="377" y="8" width="2" height="1" fill="#3a9a22"/><rect x="385" y="8" width="2" height="1" fill="#2a5fd0"/><rect x="377" y="16" width="2" height="1" fill="#2a5fd0"/><rect x="385" y="16" width="2" height="1" fill="#3a9a22"/></g>
<g stroke="#555" stroke-width="1.2" fill="none"><path d="M412.5,4.5 V17.5 M410,15.5 H423"/><path d="M411.2,6.2 L412.5,4.2 L413.8,6.2 M421.4,14.2 L423.4,15.5 L421.4,16.8" stroke-width="1"/></g>
<polygon points="417.4,6.6 421.2,9.4 417.4,12.2" fill="#7ee07e" stroke="#1a9a1a" stroke-width=".9"/>
<g stroke="#555" stroke-width="1.2" fill="none"><path d="M440.5,4.5 V17.5 M438,15.5 H451"/><path d="M439.2,6.2 L440.5,4.2 L441.8,6.2 M449.4,14.2 L451.4,15.5 L449.4,16.8" stroke-width="1"/></g>
<g><path d="M446.5,4 V14" stroke="#2a6fc8" stroke-width="1.2"/><path d="M451.6,9.5 H448 M449.8,7.6 L447.6,9.5 L449.8,11.4" stroke="#d04a10" stroke-width="1.2" fill="none"/></g>
<g><path d="M471.4,2.8 H477.6 L481,6.2 V14.8 H471.4 Z" fill="#fbfbfb" stroke="#6a6a6a" stroke-width=".9"/><path d="M477.6,2.8 V6.2 H481" fill="#e4e4e4" stroke="#6a6a6a" stroke-width=".8"/><path d="M474,5.6 v6.4 M473,7.2 h2.4 M473,11 h2.4" stroke="#777" stroke-width=".8" fill="none"/><path d="M481.4,8.4 V19.2 M475.8,13.8 H487" stroke="#0a7a0a" stroke-width="4.4"/><path d="M481.4,9.3 V18.3 M476.7,13.8 H486.1" stroke="#2fdc2f" stroke-width="2.6"/></g>
<polygon points="492.8,8.8 498.4,8.8 495.6,12" fill="#111"/>
<g><circle cx="516.8" cy="10" r="7.8" fill="#1f5fc8"/><circle cx="516.6" cy="9.6" r="6.6" fill="#3f8ae6"/><circle cx="516.8" cy="10" r="5" fill="url(#clk)" stroke="#1a4aa8" stroke-width=".6"/><path d="M516.8,6.4 V10.4 H520" stroke="#222" stroke-width="1.2" fill="none"/></g>
<polygon points="531.8,8.8 537.4,8.8 534.6,12" fill="#111"/>
<g shape-rendering="crispEdges"><rect x="548" y="3" width="16" height="14" fill="#fdfdfd" stroke="#3a78c8" stroke-width="1"/><rect x="548" y="3" width="16" height="2" fill="#4a90e0"/><rect x="549" y="10" width="14" height="1" fill="#a8c8f0"/><rect x="548" y="16" width="16" height="1" fill="#2a62c0"/></g><path d="M550.5,9.4 L553,8.6 L555,9 L558,7.6 L561.6,7.8" stroke="#b03a1a" stroke-width="1.1" fill="none"/><path d="M550.5,14.6 L553,13.4 L555.4,14.4 L558.6,12.4 L561.6,14" stroke="#1a8a2a" stroke-width="1.1" fill="none"/>
<polygon points="570.8,8.8 576.4,8.8 573.6,12" fill="#111"/>
<polygon points="600,3.6 600,15.4 602.8,12.8 604.8,17 606.6,16.2 604.6,12.2 608.4,12" fill="#444"/>
<g stroke="#555" stroke-width="1.1" shape-rendering="crispEdges"><path d="M632.5,3 V10 M632.5,11 V18 M625,10.5 H632 M633,10.5 H640"/></g>
<g stroke="#555" fill="none"><path d="M666.5,4 V17" stroke-width="1.1" shape-rendering="crispEdges"/><path d="M688.7,10.5 H701" stroke-width="1.1" shape-rendering="crispEdges"/><path d="M716.8,16.7 L728.9,5.2" stroke-width="1.1"/></g>
<g stroke="#555" stroke-width="1.1" fill="none"><path d="M742.6,12.6 L755.4,3.6 M744,16.6 L757,7.4 M746.4,7.4 L744.6,16.8 M749.6,5.4 L747.6,14.6 M752.8,3.2 L750.8,12.4 M755.6,2 L754,10.2"/></g><text class="tf" x="753.4" y="18.8" style="font-size:7px;font-weight:bold;fill:#333;stroke:#333">E</text>
<g stroke="#666" stroke-width="1" stroke-dasharray="1,1" shape-rendering="crispEdges"><path d="M772,3.5 H786 M772,6.5 H786 M772,10.5 H786 M772,14.5 H781"/></g><text class="tf" x="781.4" y="18.8" style="font-size:7px;font-weight:bold;fill:#333;stroke:#333">F</text>
<text class="tf" x="802.2" y="15" style="font-size:12px;fill:#555;stroke:#555;stroke-width:.5px">A</text>
<g shape-rendering="crispEdges"><rect x="829.5" y="4.5" width="11" height="11.5" fill="none" stroke="#666" stroke-width="1" stroke-dasharray="1,1"/></g><text class="tf" x="831.4" y="14.6" style="font-size:11px;font-weight:bold;fill:#555">T</text>
<g fill="#444" stroke="#444"><polygon points="859.4,4.2 862.9,6.9 859.4,9.4 855.9,6.9" stroke="none"/><polygon points="866.6,11 870.1,13.6 866.6,16.6 863.1,13.6" stroke="none"/><path d="M857.6,10.6 L860.4,13 L866.2,7.6" fill="none" stroke="#f0f0f0" stroke-width="3"/><path d="M857.6,10.6 L860.4,13 L866.2,7.6" fill="none" stroke-width="1.4"/></g>
<polygon points="876.8,8.8 882.4,8.8 879.6,12" fill="#111"/>
<text class="tf" x="903.2" y="14">M1</text>
<text class="tf" x="931.3" y="14">M5</text>
<text class="tf" x="957.4" y="14">M15</text>
<text class="tf" x="985.3" y="14">M30</text>
<text class="tf" x="1016.2" y="14">H1</text>
<text class="tf" x="1043.8" y="14">H4</text>
<text class="tf" x="1072.5" y="14">D1</text>
<text class="tf" x="1100.2" y="14">W1</text>
<text class="tf" x="1126.5" y="14">MN</text>
<g><path d="M1616.2,10.6 L1612.2,14.6" stroke="#2456c8" stroke-width="2.2" stroke-linecap="round"/><circle cx="1619.4" cy="7.6" r="3.9" fill="#f4f8ff" stroke="#2a62d8" stroke-width="1.2"/></g>
<g><path d="M1637,12.4 C1636,8.6 1640,7 1643,7.2 C1647,7.4 1649.6,10 1648.4,13.4 C1647.4,16 1643.4,16.8 1641.2,16.4 L1639.2,18.6 L1639.4,15.8 C1638,15 1637.2,13.8 1637,12.4 Z" fill="#e9e9ee" stroke="#b0b0b8" stroke-width=".8"/><circle cx="1650.5" cy="7.4" r="8.2" fill="url(#badge)"/><text x="1647" y="11.8" style="font-size:12.5px;fill:#fff;stroke:#fff;stroke-width:.3px">1</text></g>
</svg>
</body></html>
